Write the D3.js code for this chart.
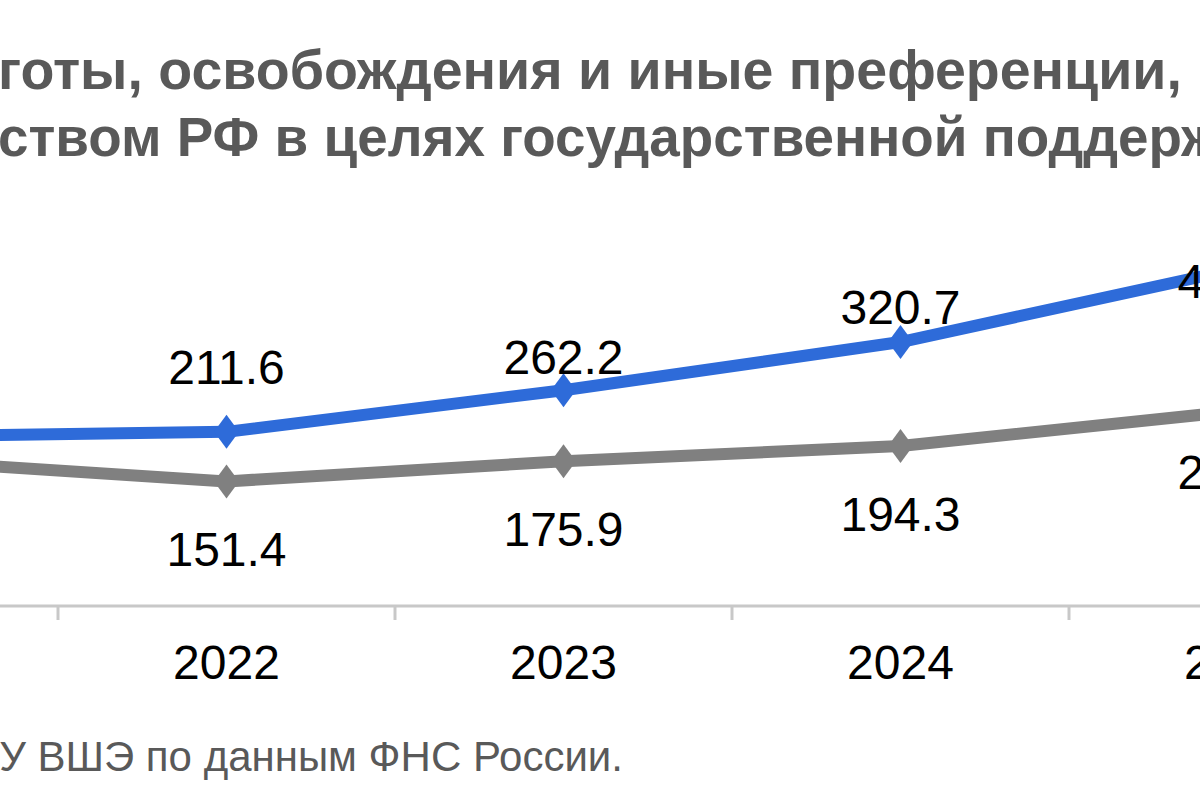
<!DOCTYPE html>
<html>
<head>
<meta charset="utf-8">
<script src="https://cdn.jsdelivr.net/npm/d3@7"></script>
<style>
  html, body { margin: 0; padding: 0; background: #fff; overflow: hidden; }
  svg { display: block; }
</style>
</head>
<body>
<script>
// ---------- DATA ----------
const years = ["2021", "2022", "2023", "2024", "2025"];
const blueValues = [206.0, 211.6, 262.2, 320.7, 409.8];
const grayValues = [178.0, 151.4, 175.9, 194.3, 237.0];
const titleLines = [
  "Льготы, освобождения и иные преференции, предоставленные",
  "законодательством РФ в целях государственной поддержки"
];
const titleHidden = ["Ль", "законодатель"];
const sourceText = "Источник: расчеты НИУ ВШЭ по данным ФНС России.";

// ---------- LAYOUT ----------
const W = 1200, H = 800;
const blueLabelDy = [-48, -48, -16, -18, 29];
const grayLabelDy = [85, 85, 85, 85, 78];

const svg = d3.select("body").append("svg")
  .attr("width", W).attr("height", H);

const x = d3.scaleBand().domain(years).range([-279, 1406]);
const cx = d => x(d) + x.bandwidth() / 2;
const y = d3.scaleLinear().domain([0, 500]).range([606, 606 - 0.823 * 500]);

const font = "Liberation Sans, Arial, sans-serif";
function measure(txt, size, weight) {
  const t = svg.append("text").attr("font-family", font)
    .attr("font-size", size).attr("font-weight", weight).text(txt);
  const w = t.node().getComputedTextLength();
  t.remove();
  return w;
}

// title
const titleSizes = [55.5, 54.8];
const titleStarts = [-2, -2];
const titleBaselines = [89, 156];
titleLines.forEach((line, i) => {
  const off = measure(titleHidden[i], titleSizes[i], "bold");
  svg.append("text")
    .attr("x", titleStarts[i] - off)
    .attr("y", titleBaselines[i])
    .attr("font-family", font)
    .attr("font-size", titleSizes[i])
    .attr("font-weight", "bold")
    .attr("fill", "#595959")
    .text(line);
});

// axis
const axisY = y(0);
svg.append("line")
  .attr("x1", 0).attr("x2", W)
  .attr("y1", axisY).attr("y2", axisY)
  .attr("stroke", "#c8c8c8").attr("stroke-width", 3);
svg.selectAll(".tick-mark").data(years).enter().append("line")
  .attr("x1", d => x(d)).attr("x2", d => x(d))
  .attr("y1", axisY).attr("y2", axisY + 14)
  .attr("stroke", "#c8c8c8").attr("stroke-width", 3);
svg.selectAll(".tick-label").data(years).enter().append("text")
  .attr("x", d => cx(d)).attr("y", axisY + 73)
  .attr("text-anchor", "middle")
  .attr("font-family", font).attr("font-size", 48)
  .attr("fill", "#000").text(d => d);

// lines
const line = d3.line().x((d, i) => cx(years[i])).y(d => y(d));
const series = [
  { values: grayValues, color: "#808080" },
  { values: blueValues, color: "#2e6bd9" }
];
const hw = 12.5, hh = 17;
series.forEach(s => {
  svg.append("path").datum(s.values)
    .attr("d", line)
    .attr("fill", "none")
    .attr("stroke", s.color)
    .attr("stroke-width", 12)
    .attr("stroke-linejoin", "round");
  svg.selectAll(null).data(s.values).enter().append("path")
    .attr("d", (d, i) => {
      const px = cx(years[i]), py = y(d);
      return `M${px},${py - hh}L${px + hw},${py}L${px},${py + hh}L${px - hw},${py}Z`;
    })
    .attr("fill", s.color);
});

// labels
const fmt = d3.format(".1f");
svg.selectAll(".blab").data(blueValues).enter().append("text")
  .attr("x", (d, i) => cx(years[i]))
  .attr("y", (d, i) => y(d) + blueLabelDy[i])
  .attr("text-anchor", "middle")
  .attr("font-family", font).attr("font-size", 48)
  .attr("fill", "#000").text(d => fmt(d));
svg.selectAll(".glab").data(grayValues).enter().append("text")
  .attr("x", (d, i) => cx(years[i]))
  .attr("y", (d, i) => y(d) + grayLabelDy[i])
  .attr("text-anchor", "middle")
  .attr("font-family", font).attr("font-size", 48)
  .attr("fill", "#000").text(d => fmt(d));

// source
svg.append("text")
  .attr("x", 623).attr("y", 771)
  .attr("text-anchor", "end")
  .attr("font-family", font).attr("font-size", 42)
  .attr("fill", "#595959").text(sourceText);
</script>
</body>
</html>
